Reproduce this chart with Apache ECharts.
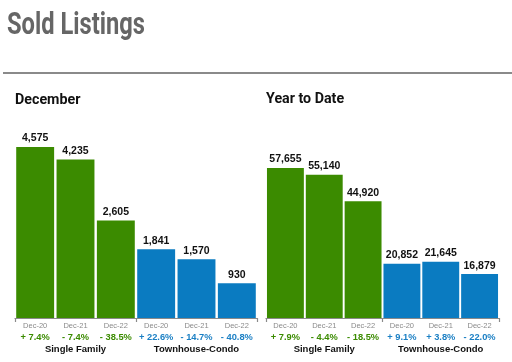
<!DOCTYPE html>
<html>
<head>
<meta charset="utf-8">
<script src="https://cdn.jsdelivr.net/npm/echarts@6/dist/echarts.min.js"></script>
<style>html,body{margin:0;padding:0;background:#fff}#c{width:512px;height:362px}</style>
</head>
<body>
<div id="c"></div>
<script>
var months = ['Dec-20', 'Dec-21', 'Dec-22'];
var groups = ['Single Family', 'Townhouse-Condo'];
var decSingle = [4575, 4235, 2605];
var decTown = [1841, 1570, 930];
var decChange = ['+ 7.4%', '- 7.4%', '- 38.5%', '+ 22.6%', '- 14.7%', '- 40.8%'];
var ytdSingle = [57655, 55140, 44920];
var ytdTown = [20852, 21645, 16879];
var ytdChange = ['+ 7.9%', '- 4.4%', '- 18.5%', '+ 9.1%', '+ 3.8%', '- 22.0%'];

var GREEN = '#3b8b00', BLUE = '#0a7bc1';
var TXTGREEN = '#3b8b00', TXTBLUE = '#1a7fc4';

function cats() {
  var out = [];
  groups.forEach(function (g) { months.forEach(function (m) { out.push(g + '|' + m); }); });
  return out;
}
function items(a, b) {
  return a.map(function (v) { return { value: v, itemStyle: { color: GREEN } }; })
    .concat(b.map(function (v) { return { value: v, itemStyle: { color: BLUE } }; }));
}
function monthAxis(gi, changes) {
  return {
    type: 'category', gridIndex: gi, data: cats(), position: 'bottom',
    axisLine: { show: false }, axisTick: { show: false },
    axisLabel: {
      interval: 0, margin: 3,
      formatter: function (v, i) {
        var m = v.split('|')[1];
        return '{m|' + m + '}\n{' + (i < 3 ? 'g' : 'b') + '|' + changes[i] + '}';
      },
      rich: {
        m: { fontSize: 7.5, color: '#8a8a8a', fontFamily: 'Liberation Sans', lineHeight: 10 },
        g: { fontSize: 9.3, color: TXTGREEN, fontWeight: 'bold', fontFamily: 'Liberation Sans', lineHeight: 13 },
        b: { fontSize: 9.3, color: TXTBLUE, fontWeight: 'bold', fontFamily: 'Liberation Sans', lineHeight: 13 }
      }
    }
  };
}
function groupAxis(gi) {
  return {
    type: 'category', gridIndex: gi, data: groups, position: 'bottom',
    axisLine: { show: true, lineStyle: { color: '#8a8a8a', width: 1.2 } },
    axisTick: { show: true, length: 4, lineStyle: { color: '#8a8a8a', width: 1.2 } },
    axisLabel: { margin: 26, fontSize: 9.5, fontWeight: 'bold', color: '#111', fontFamily: 'Liberation Sans' }
  };
}
function barLabel() {
  return {
    show: true, position: 'top', distance: 3, color: '#111', fontWeight: 'bold',
    fontSize: 10.5, fontFamily: 'Liberation Sans',
    formatter: function (p) { return p.value.toLocaleString('en-US'); }
  };
}
function heading(text, x, y, size, sx, color) {
  return {
    type: 'text', x: x, y: y, scaleX: sx,
    style: { text: text, fontSize: size, fontWeight: 'bold', fontFamily: 'Roboto', fill: color, verticalAlign: 'top' }
  };
}

var chart = echarts.init(document.getElementById('c'), null, { renderer: 'canvas' });
chart.setOption({
  animation: false,
  graphic: [
    heading('Sold Listings', 7, 10, 32, 0.74, '#666'),
    heading('December', 15, 92, 15.5, 0.92, '#111'),
    heading('Year to Date', 266, 91, 15.5, 0.92, '#111'),
    { type: 'line', shape: { x1: 3, y1: 73, x2: 512, y2: 73 }, style: { stroke: '#8a8a8a', lineWidth: 2 } }
  ],
  grid: [
    { left: 15, top: 131, width: 242, height: 187 },
    { left: 266, top: 162, width: 233, height: 156 }
  ],
  xAxis: [monthAxis(0, decChange), groupAxis(0), monthAxis(1, ytdChange), groupAxis(1)],
  yAxis: [
    { type: 'value', gridIndex: 0, min: 0, max: 5000, show: false },
    { type: 'value', gridIndex: 1, min: 0, max: 60000, show: false }
  ],
  series: [
    { type: 'bar', xAxisIndex: 0, yAxisIndex: 0, data: items(decSingle, decTown), barCategoryGap: '6%', label: barLabel() },
    { type: 'bar', xAxisIndex: 2, yAxisIndex: 1, data: items(ytdSingle, ytdTown), barCategoryGap: '5%', label: barLabel() }
  ]
});
</script>
</body>
</html>
